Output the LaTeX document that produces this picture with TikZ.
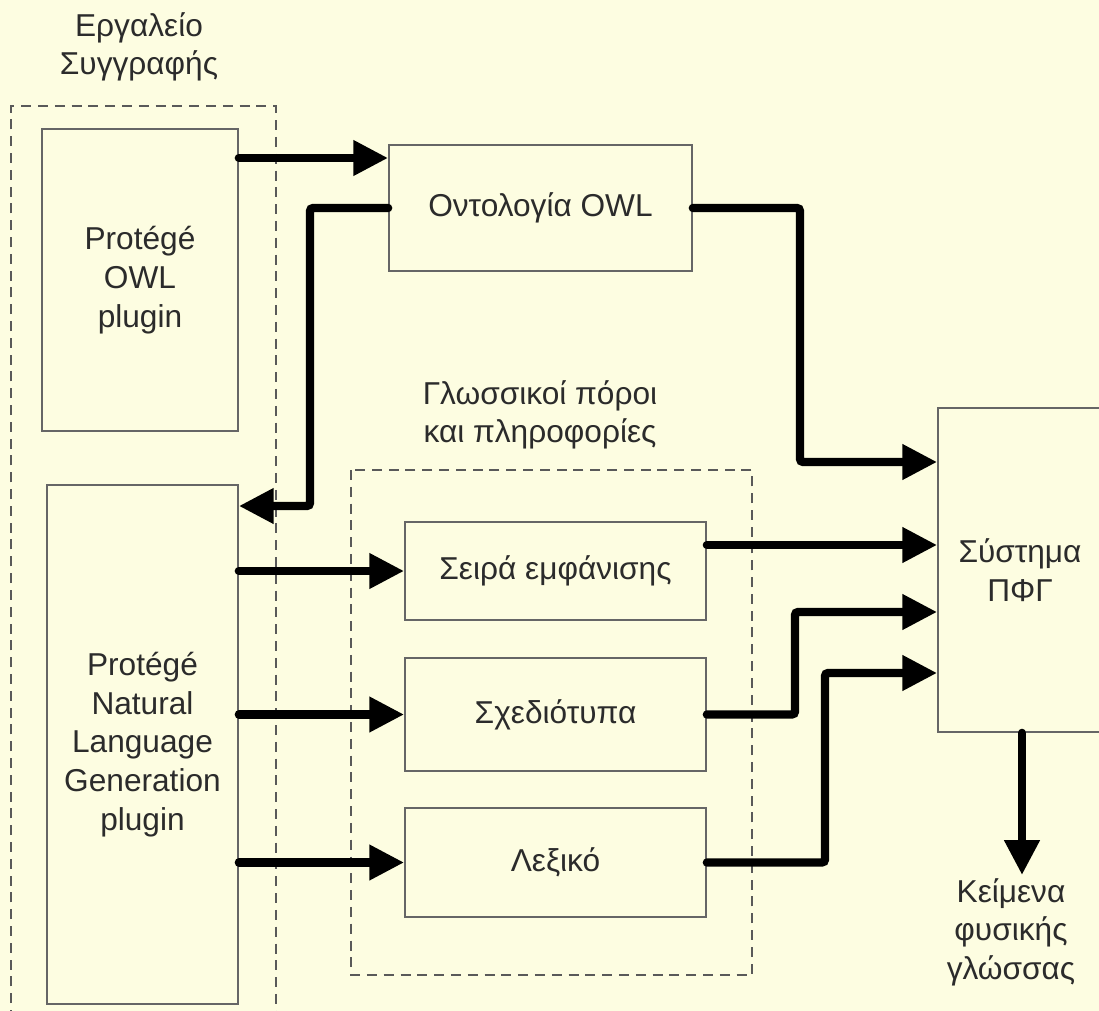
\documentclass[tikz,border=0pt]{standalone}
\usepackage{fontspec}
\setmainfont{Liberation Sans}
\usepackage{xcolor}
\usetikzlibrary{arrows.meta, calc}
\definecolor{paper}{HTML}{FDFDE1}
\definecolor{inkgray}{HTML}{2B2B2B}
\tikzset{
  ngbox/.style={
    draw=black!60, line width=1.2pt, align=center, fill=none,
    font=\fontsize{22.5}{27.5}\selectfont, text=inkgray, inner sep=0pt
  },
  ngframe/.style={
    draw=black!65, line width=1.4pt, dash pattern=on 0.25cm off 0.17cm
  },
  ngarrow/.style={
    -{Triangle[length=0.87cm, width=0.84cm]}, line width=0.21cm,
    rounded corners=0.08cm, line cap=round
  },
  nglabel/.style={
    align=center, font=\fontsize{22.5}{27.5}\selectfont, text=inkgray
  },
}
\begin{document}
\begin{tikzpicture}[x=0.025cm, y=-0.025cm]
  % Background
  \fill[paper] (0,0) rectangle (1099,1011);
  \useasboundingbox (0,0) rectangle (1099,1011);

  % Authoring tool frame
  \draw[ngframe] (11,1020) -- (11,106) -- (276,106) -- (276,1020);
  \node[nglabel] (toollbl) at (139,47) {Εργαλείο\\Συγγραφής};

  \node[ngbox, minimum width=4.9cm, minimum height=7.55cm]
    (owlplug) at (140,280) {Protégé\\OWL\\plugin};
  \node[ngbox, minimum width=4.775cm, minimum height=12.975cm]
    (nlgplug) at (142.5,744.5)
    {Protégé\\Natural\\Language\\Generation\\plugin};

  % Ontology
  \node[ngbox, minimum width=7.575cm, minimum height=3.15cm]
    (onto) at (540.5,208) {Οντολογία OWL};

  % Linguistic resources frame
  \draw[ngframe] (351,470) rectangle (752,975);
  \node[nglabel] (reslbl) at (540,415) {Γλωσσικοί πόροι\\και πληροφορίες};

  \node[ngbox, minimum width=7.525cm, minimum height=2.45cm]
    (seira) at (555.5,571) {Σειρά εμφάνισης};
  \node[ngbox, minimum width=7.525cm, minimum height=2.825cm]
    (sxed) at (555.5,714.5) {Σχεδιότυπα};
  \node[ngbox, minimum width=7.525cm, minimum height=2.725cm]
    (lex) at (555.5,862.5) {Λεξικό};

  % NLG system
  \node[ngbox, minimum width=4.1cm, minimum height=8.1cm]
    (pfg) at (1020,570) {Σύστημα\\ΠΦΓ};
  \node[nglabel, anchor=north, inner sep=0pt] (outtxt) at (1011,878)
    {Κείμενα\\φυσικής\\γλώσσας};

  % Connectors
  \draw[ngarrow] (owlplug.east |- 0,158) -- (onto.west |- 0,158);
  \draw[ngarrow] (onto.west) -| (310,506) -- (nlgplug.east |- 0,506);
  \draw[ngarrow] (onto.east) -| (800,462) -- (pfg.west |- 0,462);

  \draw[ngarrow] (nlgplug.east |- seira.west) -- (seira.west);
  \draw[ngarrow] (nlgplug.east |- sxed.west) -- (sxed.west);
  \draw[ngarrow] (nlgplug.east |- lex.west) -- (lex.west);

  \draw[ngarrow] (seira.east |- 0,545) -- (pfg.west |- 0,545);
  \draw[ngarrow] (sxed.east) -| (795,612) -- (pfg.west |- 0,612);
  \draw[ngarrow] (lex.east) -| (825,673) -- (pfg.west |- 0,673);

  \draw[ngarrow] (pfg.south -| 1022,0) -- (1022,875);
\end{tikzpicture}
\end{document}
